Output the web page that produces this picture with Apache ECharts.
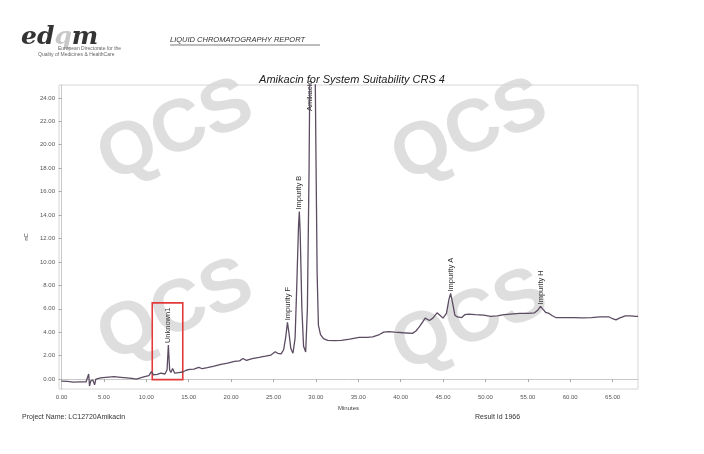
<!DOCTYPE html>
<html>
<head>
<meta charset="utf-8">
<script src="https://cdn.jsdelivr.net/npm/echarts@6/dist/echarts.min.js"></script>
<style>
html,body{margin:0;padding:0;background:#fff;}
#c{width:704px;height:454px;}
</style>
</head>
<body>
<div id="c"></div>
<script>
// ---- data ----
const timeMin = [0,0.7,1.4,2.2,2.9,3.1,3.2,3.3,3.45,3.7,3.9,4.05,4.6,5.2,6.2,7.0,7.7,8.3,8.8,9.3,9.8,10.3,10.6,10.85,11.3,11.7,12.2,12.45,12.6,12.75,12.9,13.1,13.35,13.8,14.3,14.7,15.1,15.6,16.2,16.6,17.2,18.0,18.8,19.6,20.4,21.0,21.4,21.8,22.5,23.3,24.05,24.7,25.2,25.5,25.9,26.2,26.45,26.65,26.85,27.05,27.3,27.55,27.75,27.95,28.05,28.15,28.35,28.55,28.8,29.0,29.2,29.35,29.6,29.85,30.0,30.15,30.3,30.55,30.9,31.4,32.2,33.0,34.0,35.1,36.0,36.7,37.5,38.0,38.6,39.3,40.3,41.4,41.8,42.2,42.9,43.4,43.8,44.3,44.7,45.0,45.4,45.7,45.9,46.1,46.4,46.7,47.2,47.6,48.0,48.8,49.8,50.6,51.4,52.2,53.0,54.0,55.1,55.8,56.2,56.5,56.8,57.1,57.5,57.9,58.3,59.3,60.4,61.4,62.5,63.5,64.6,65.0,65.4,65.8,66.5,67.1,67.7,68.0];
const signalNC = [-0.17,-0.2,-0.26,-0.24,-0.23,-0.3,0.43,-0.6,-0.15,-0.1,-0.5,0.0,0.1,0.15,0.2,0.15,0.1,0.05,0.0,0.1,0.2,0.3,0.63,0.35,0.4,0.5,0.43,0.8,2.9,0.8,0.55,0.9,0.5,0.55,0.6,0.75,0.82,0.85,1.0,0.88,0.97,1.1,1.25,1.35,1.5,1.55,1.75,1.6,1.75,1.85,1.95,2.05,2.33,2.2,2.15,2.5,3.6,4.85,3.8,2.6,2.2,3.5,8,13,14.3,12.5,6,2.8,2.3,6,18,32,45,32,20,9,4.6,3.8,3.45,3.3,3.28,3.3,3.4,3.55,3.55,3.6,3.8,4.0,4.05,4.0,3.95,3.9,4.1,4.45,5.2,5.0,5.2,5.65,5.4,5.2,5.6,6.8,7.3,6.6,5.45,5.3,5.25,5.5,5.55,5.5,5.45,5.35,5.4,5.5,5.55,5.6,5.6,5.65,5.9,6.2,5.95,5.7,5.6,5.4,5.25,5.25,5.25,5.22,5.25,5.3,5.3,5.15,5.05,5.2,5.4,5.4,5.35,5.35];
const peakNames = ['Unknown1','Impurity F','Impurity B','Amikacin','Impurity A','Impurity H'];
const peakTimes = [12.6,26.65,28.05,29.3,45.9,56.5];
const peakLabelAt = [2.9,4.85,14.3,22.7,7.3,6.2];
const xTicks = [0,5,10,15,20,25,30,35,40,45,50,55,60,65];
const yTicks = [0,2,4,6,8,10,12,14,16,18,20,22,24];
const boxRange = [[10.7,-0.05],[14.3,6.5]];

const title = 'Amikacin for System Suitability CRS 4';
const reportTitle = 'LIQUID CHROMATOGRAPHY REPORT';
const projectText = 'Project Name: LC12720Amikacin';
const resultText = 'Result Id 1966';

const seriesData = timeMin.map((t,i)=>[t, signalNC[i]]);
const FONT = '"Liberation Sans", Arial, sans-serif';

const chart = echarts.init(document.getElementById('c'), null, {renderer:'canvas'});
const wmStyle = {text:'QCS', fill:'rgba(200,200,200,0.6)', font:'bold 74px "Liberation Sans", Arial, sans-serif', align:'center', verticalAlign:'middle'};
const wm = (x,y)=>({type:'text', x:x, y:y, rotation:0.4, z:-10, silent:true, style:Object.assign({}, wmStyle)});

chart.setOption({
  animation:false,
  backgroundColor:'#ffffff',
  title:{
    text:title, left:'center', top:69, itemGap:0,
    textStyle:{fontFamily:FONT, fontStyle:'italic', fontWeight:'normal', fontSize:11, color:'#222'}
  },
  grid:{left:59, right:66, top:85, bottom:65, show:true, borderColor:'#d6d6d6', borderWidth:1},
  xAxis:{
    type:'value', min:-0.3, max:68,
    name:'Minutes', nameLocation:'middle', nameGap:14,
    nameTextStyle:{fontFamily:FONT, fontSize:6, color:'#444'},
    axisLine:{show:true, lineStyle:{color:'#c8c8c8', width:1}},
    axisTick:{show:true, customValues:xTicks, length:3, lineStyle:{color:'#aaa'}},
    axisLabel:{customValues:xTicks, fontFamily:FONT, fontSize:6, color:'#555', margin:5, formatter:v=>v.toFixed(2)},
    splitLine:{show:false}
  },
  yAxis:{
    type:'value', min:-0.85, max:25.1,
    name:'nC', nameLocation:'middle', nameGap:22, nameRotate:90,
    nameTextStyle:{fontFamily:FONT, fontSize:6, color:'#444'},
    axisLine:{show:true, lineStyle:{color:'#c8c8c8', width:1}},
    axisTick:{show:true, customValues:yTicks, length:3, lineStyle:{color:'#aaa'}},
    axisLabel:{customValues:yTicks, fontFamily:FONT, fontSize:6, color:'#555', margin:4, formatter:v=>v.toFixed(2)},
    splitLine:{show:false}
  },
  series:[{
    type:'line', data:seriesData, showSymbol:false, smooth:false, clip:true,
    lineStyle:{color:'#5c4c62', width:1.3},
    z:5,
    markArea:{
      silent:true,
      itemStyle:{color:'rgba(0,0,0,0)', borderColor:'#e23a3a', borderWidth:1.6},
      data:[[{coord:boxRange[0]},{coord:boxRange[1]}]]
    },
    markPoint:{
      symbol:'circle', symbolSize:0.01, silent:true,
      label:{show:true, position:'top', distance:2, rotate:90, align:'left', verticalAlign:'middle',
             fontFamily:FONT, fontSize:7.5, color:'#333', formatter:p=>p.name},
      data:peakNames.map((n,i)=>({name:n, coord:[peakTimes[i], peakLabelAt[i]]}))
    }
  }],
  graphic:[
    wm(176,132), wm(470,132), wm(176,312), wm(470,322),
    {type:'text', left:21, top:25, style:{
      text:'{a|ed}{b|q}{a|m}',
      rich:{a:{font:'italic bold 25px "DejaVu Serif", serif', fill:'#333'}, b:{font:'italic bold 25px "DejaVu Serif", serif', fill:'#c8c8c8'}}
    }},
    {type:'text', left:58, top:46, style:{text:'European Directorate for the', font:'5px "Liberation Sans", Arial, sans-serif', fill:'#666'}},
    {type:'text', left:38, top:52, style:{text:'Quality of Medicines & HealthCare', font:'5px "Liberation Sans", Arial, sans-serif', fill:'#666'}},
    {type:'text', left:170, top:36, style:{text:reportTitle, font:'italic 7.5px "Liberation Sans", Arial, sans-serif', fill:'#333'}},
    {type:'line', shape:{x1:170, y1:45, x2:320, y2:45}, style:{stroke:'#444', lineWidth:0.7}},
    {type:'text', left:22, top:414, style:{text:projectText, font:'7px "Liberation Sans", Arial, sans-serif', fill:'#333'}},
    {type:'text', left:475, top:414, style:{text:resultText, font:'7px "Liberation Sans", Arial, sans-serif', fill:'#333'}}
  ]
});
</script>
</body>
</html>
